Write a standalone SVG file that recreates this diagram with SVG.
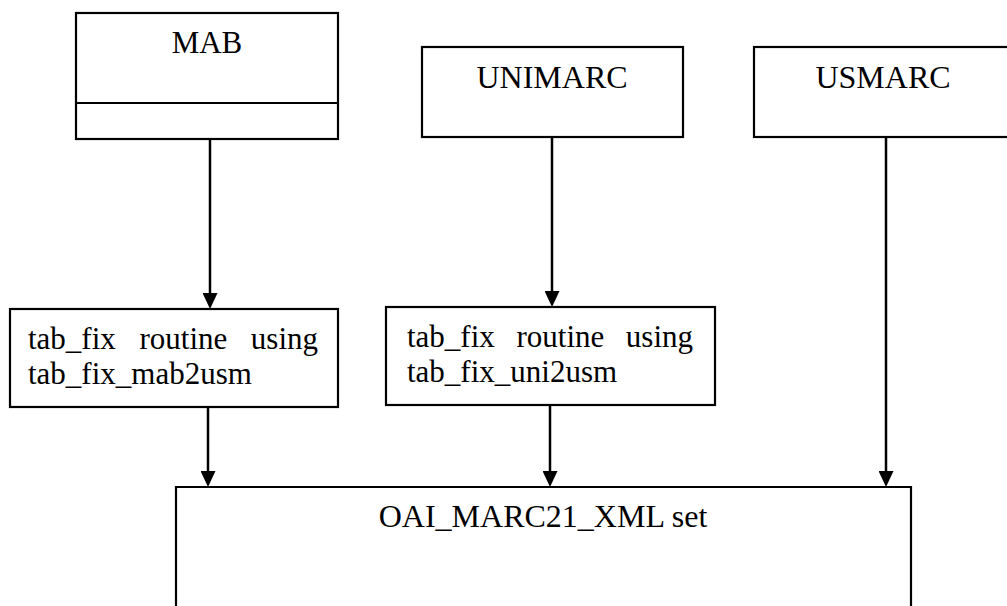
<svg xmlns="http://www.w3.org/2000/svg" width="1007" height="606" viewBox="0 0 1007 606">
<style>
.box{fill:#fff;stroke:#000;stroke-width:2.2}
.t{font-family:"Liberation Serif","Times New Roman",serif;fill:#000}
.h{font-size:32px;text-anchor:middle}
.s{font-size:31px}
.c{stroke:#000;stroke-width:2.5;fill:none;marker-end:url(#ah)}
</style>
<defs>
<marker id="ah" viewBox="0 0 16 15" refX="8" refY="7.5" markerWidth="16" markerHeight="15" markerUnits="userSpaceOnUse" orient="auto">
<path d="M0,0 L16,7.5 L0,15 z" fill="#000"/>
</marker>
</defs>
<rect width="1007" height="606" fill="#fff"/>
<g id="mab">
<rect class="box" x="76" y="13" width="262" height="126"/>
<line x1="76" y1="103" x2="338" y2="103" stroke="#000" stroke-width="2.2"/>
<text class="t h" x="207" y="53" style="font-size:31px">MAB</text>
</g>
<g id="unimarc">
<rect class="box" x="422" y="47" width="261" height="90"/>
<text class="t h" x="552" y="88">UNIMARC</text>
</g>
<g id="usmarc">
<rect class="box" x="754" y="47" width="260" height="90"/>
<text class="t h" x="883" y="88">USMARC</text>
</g>
<g id="tabmab">
<rect class="box" x="10" y="309" width="328" height="98"/>
<text class="t s" y="349"><tspan x="28">tab_fix</tspan><tspan x="139.5">routine</tspan><tspan x="318" text-anchor="end">using</tspan></text>
<text class="t s" x="28" y="384">tab_fix_mab2usm</text>
</g>
<g id="tabuni">
<rect class="box" x="386" y="307" width="329" height="98"/>
<text class="t s" y="347"><tspan x="407">tab_fix</tspan><tspan x="516.5">routine</tspan><tspan x="693" text-anchor="end">using</tspan></text>
<text class="t s" x="407" y="382">tab_fix_uni2usm</text>
</g>
<g id="oai">
<path class="box" d="M176,607 V487 H911 V607"/>
<text class="t h" x="543" y="527">OAI_MARC21_XML set</text>
</g>
<g id="connectors">
<line class="c" x1="210" y1="139" x2="210" y2="301"/>
<line class="c" x1="552" y1="137" x2="552" y2="299"/>
<line class="c" x1="886" y1="137" x2="886" y2="479"/>
<line class="c" x1="208" y1="407" x2="208" y2="479"/>
<line class="c" x1="550" y1="405" x2="550" y2="479"/>
</g>
</svg>
